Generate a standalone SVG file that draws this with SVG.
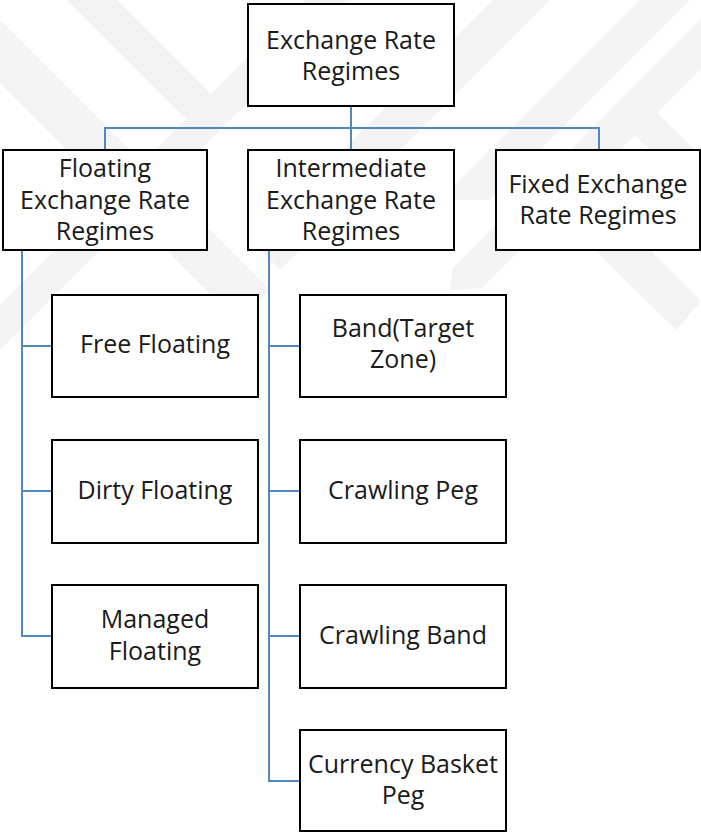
<svg xmlns="http://www.w3.org/2000/svg" width="701" height="832" viewBox="0 0 701 832">
<style>
.bg{fill:#ffffff}
.wm{fill:#f3f3f3}
.box{fill:#ffffff;stroke:#000000;stroke-width:2}
.lbl{font-family:"Open Sans","Liberation Sans",sans-serif;font-size:25px;fill:#1a1a1a;text-anchor:middle}
.con{fill:none;stroke:#5088c4;stroke-width:2}
</style>
<rect class="bg" x="0" y="0" width="701" height="832"/>
<g id="watermark">
<polygon class="wm" points="0,20 270,290 238,322 0,83"/>
<polygon class="wm" points="67,0 117,0 211,94 186,119"/>
<polygon class="wm" points="0,305 305,0 350,0 0,350"/>
<polygon class="wm" points="493,0 550,0 280,270 252,241"/>
<polygon class="wm" points="640,0 690,0 490,200 440,200"/>
<polygon class="wm" points="701,19 701,69 482,288 450,290 452,269"/>
<polygon class="wm" points="610,110 632,88 701,156 701,201"/>
<polygon class="wm" points="532,187 560,160 701,301 676,330"/>
</g>
<g id="connectors">
<path class="con" d="M351,106 V150 M105,150 V128 H599 V150"/>
<path class="con" d="M22,250 V636 H52 M22,346 H52 M22,491 H52"/>
<path class="con" d="M269,250 V781 H300 M269,346 H300 M269,491 H300 M269,636 H300"/>
</g>
<g id="root">
<rect class="box" x="248" y="4" width="206" height="102"/>
<text class="lbl" x="351" y="49">Exchange Rate</text>
<text class="lbl" x="351" y="80">Regimes</text>
</g>
<g id="floating">
<rect class="box" x="3" y="150" width="204" height="100"/>
<text class="lbl" x="105" y="177">Floating</text>
<text class="lbl" x="105" y="209">Exchange Rate</text>
<text class="lbl" x="105" y="240">Regimes</text>
</g>
<g id="intermediate">
<rect class="box" x="248" y="150" width="206" height="100"/>
<text class="lbl" x="351" y="177">Intermediate</text>
<text class="lbl" x="351" y="209">Exchange Rate</text>
<text class="lbl" x="351" y="240">Regimes</text>
</g>
<g id="fixed">
<rect class="box" x="496" y="150" width="204" height="100"/>
<text class="lbl" x="598" y="193">Fixed Exchange</text>
<text class="lbl" x="598" y="224">Rate Regimes</text>
</g>
<g id="free-floating">
<rect class="box" x="52" y="295" width="206" height="102"/>
<text class="lbl" x="155" y="353">Free Floating</text>
</g>
<g id="dirty-floating">
<rect class="box" x="52" y="440" width="206" height="103"/>
<text class="lbl" x="155" y="499">Dirty Floating</text>
</g>
<g id="managed-floating">
<rect class="box" x="52" y="585" width="206" height="103"/>
<text class="lbl" x="155" y="628">Managed</text>
<text class="lbl" x="155" y="660">Floating</text>
</g>
<g id="band">
<rect class="box" x="300" y="295" width="206" height="102"/>
<text class="lbl" x="403" y="337">Band(Target</text>
<text class="lbl" x="403" y="368">Zone)</text>
</g>
<g id="crawling-peg">
<rect class="box" x="300" y="440" width="206" height="103"/>
<text class="lbl" x="403" y="499">Crawling Peg</text>
</g>
<g id="crawling-band">
<rect class="box" x="300" y="585" width="206" height="103"/>
<text class="lbl" x="403" y="644">Crawling Band</text>
</g>
<g id="currency-basket-peg">
<rect class="box" x="300" y="730" width="206" height="101"/>
<text class="lbl" x="403" y="773">Currency Basket</text>
<text class="lbl" x="403" y="804">Peg</text>
</g>
</svg>
